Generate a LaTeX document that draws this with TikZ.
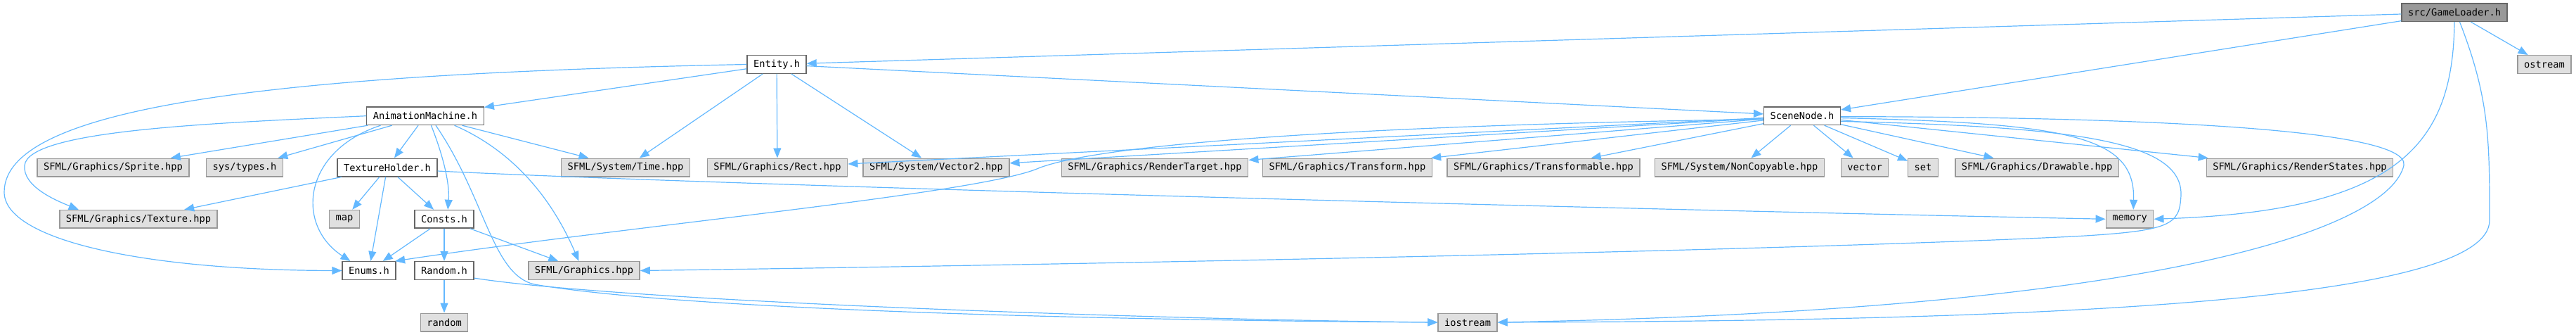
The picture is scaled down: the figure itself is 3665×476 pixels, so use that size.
\documentclass[tikz,border=0pt]{standalone}
\usepackage{fontspec}
\setmonofont{DejaVu Sans Mono}
\usepackage{tikz}
\usepackage{xcolor}
\usetikzlibrary{arrows.meta}
\definecolor{edgeblue}{HTML}{63B8FF}
\definecolor{boxgray}{HTML}{E0E0E0}
\definecolor{bordergray}{HTML}{999999}
\definecolor{borderdark}{HTML}{666666}
\definecolor{rootgray}{HTML}{999999}
\tikzstyle{hdr} = [draw, line width=0.7pt, minimum height=12.8pt, inner xsep=4.5pt, inner ysep=0pt, font=\ttfamily\fontsize{6.85}{8}\selectfont]
\tikzstyle{sysfile} = [hdr, draw=bordergray, fill=boxgray]
\tikzstyle{localfile} = [hdr, draw=borderdark, fill=white]
\tikzstyle{rootfile} = [hdr, draw=borderdark, fill=rootgray]
\tikzstyle{dep} = [edgeblue, line width=0.6pt, -{Triangle[length=7pt,width=5.5pt]}]

\begin{document}
\begin{tikzpicture}[x=0.5pt, y=-0.5pt]
    \useasboundingbox (0,0) rectangle (3665,476);

    % Headers of the project
    \node[rootfile] (gl) at (3492,17.7) {src/GameLoader.h};
    \node[localfile] (ent) at (1105,91.5) {Entity.h};
    \node[localfile] (am) at (605,164.7) {AnimationMachine.h};
    \node[localfile] (scene) at (2564,164.7) {SceneNode.h};
    \node[localfile] (th) at (551,238) {TextureHolder.h};
    \node[localfile] (consts) at (632,311.3) {Consts.h};
    \node[localfile] (enums) at (525,384.5) {Enums.h};
    \node[localfile] (rnd) at (632,384.5) {Random.h};

    % System and library headers
    \node[sysfile] (ostr) at (3620,91.5) {ostream};
    \node[sysfile] (sprite) at (161,238) {SFML/Graphics/Sprite.hpp};
    \node[sysfile] (types) at (348,238) {sys/types.h};
    \node[sysfile] (time) at (890,238) {SFML/System/Time.hpp};
    \node[sysfile] (rect) at (1106,238) {SFML/Graphics/Rect.hpp};
    \node[sysfile] (vec2) at (1332,238) {SFML/System/Vector2.hpp};
    \node[sysfile] (rtarget) at (1643,238) {SFML/Graphics/RenderTarget.hpp};
    \node[sysfile] (transform) at (1917,238) {SFML/Graphics/Transform.hpp};
    \node[sysfile] (transformable) at (2196,238) {SFML/Graphics/Transformable.hpp};
    \node[sysfile] (noncopy) at (2475,238) {SFML/System/NonCopyable.hpp};
    \node[sysfile] (vector) at (2653,238) {vector};
    \node[sysfile] (set) at (2736,238) {set};
    \node[sysfile] (drawable) at (2898,238) {SFML/Graphics/Drawable.hpp};
    \node[sysfile] (rstates) at (3272,238) {SFML/Graphics/RenderStates.hpp};
    \node[sysfile] (tex) at (197,311.3) {SFML/Graphics/Texture.hpp};
    \node[sysfile] (map) at (490,311.3) {map};
    \node[sysfile] (mem) at (3030,311.3) {memory};
    \node[sysfile] (gfx) at (831,384.5) {SFML/Graphics.hpp};
    \node[sysfile] (random) at (632,458) {random};
    \node[sysfile] (ios) at (2088,458) {iostream};

    % Straight includes
    \foreach \dst in {ent, scene, ostr} {
        \draw[dep] (gl) -- (\dst);
    }
    \foreach \dst in {am, scene, time, rect, vec2} {
        \draw[dep] (ent) -- (\dst);
    }
    \foreach \dst in {sprite, types, th, time} {
        \draw[dep] (am) -- (\dst);
    }
    \foreach \dst in {tex, map, enums, consts} {
        \draw[dep] (th) -- (\dst);
    }
    \foreach \dst in {enums, rnd, gfx} {
        \draw[dep] (consts) -- (\dst);
    }
    \draw[dep] (rnd) -- (random);
    \foreach \dst in {rect, vec2, rtarget, transform, transformable, noncopy, vector, set, drawable, rstates} {
        \draw[dep] (scene) -- (\dst);
    }

    % Curved includes
    \draw[dep] (ent.west) .. controls (400,105) and (6,150) .. (6,273) .. controls (6,340) and (200,384) .. (enums.west);
    \draw[dep] (am.west) .. controls (300,175) and (40,185) .. (35,235) .. controls (32,265) and (80,285) .. (tex.171);
    \draw[dep] (am.192) .. controls (430,215) and (420,320) .. (enums.153);
    \draw[dep] (am.302) .. controls (630,220) and (640,260) .. (consts.69);
    \draw[dep] (am.318) .. controls (690,280) and (700,390) .. (760,404) .. controls (1000,445) and (1700,456) .. (ios.west);
    \draw[dep] (am.342) .. controls (720,210) and (780,270) .. (gfx.119);
    \draw[dep] (th.356) .. controls (1000,262) and (2200,295) .. (mem.west);
    \draw[dep] (rnd.346) .. controls (900,430) and (1700,455) .. (ios.west);
    \draw[dep] (scene.185) .. controls (2100,175) and (1600,195) .. (1480,238) .. controls (1400,275) and (900,320) .. (enums.20);
    \draw[dep] (scene.357) .. controls (2950,175) and (3038,195) .. (mem.69);
    \draw[dep] (scene.352) .. controls (2950,180) and (3105,200) .. (3103,277) .. controls (3101,320) and (3090,328) .. (2950,336) .. controls (2500,358) and (1400,378) .. (gfx.east);
    \draw[dep] (scene.359) .. controls (3000,166) and (3430,180) .. (3420,235) .. controls (3400,320) and (3100,440) .. (ios.east);
    \draw[dep] (gl.south) .. controls (3490,200) and (3420,300) .. (mem.east);
    \draw[dep] (gl.299) .. controls (3542,140) and (3542,200) .. (3542,313) .. controls (3542,430) and (2900,456) .. (ios.east);
\end{tikzpicture}
\end{document}
